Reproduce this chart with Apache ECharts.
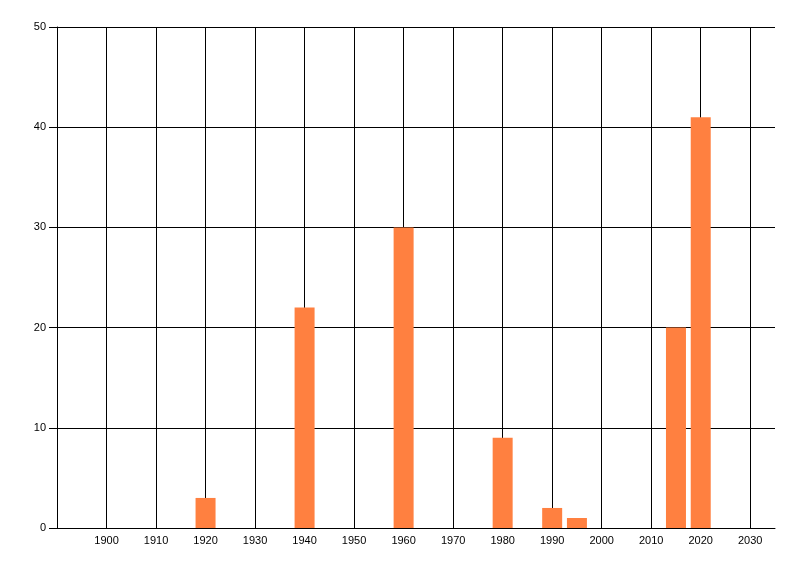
<!DOCTYPE html>
<html>
<head>
<meta charset="utf-8">
<script src="https://cdn.jsdelivr.net/npm/echarts@6/dist/echarts.min.js"></script>
<style>html,body{margin:0;padding:0;background:#fff}#c{width:800px;height:576px}</style>
</head>
<body>
<div id="c"></div>
<script>
const years = [1920, 1940, 1960, 1980, 1990, 1995, 2015, 2020];
const counts = [3, 22, 30, 9, 2, 1, 20, 41];
const xRange = [1890, 2035];
const yRange = [0, 50];

const chart = echarts.init(document.getElementById('c'));
const font = {fontFamily: 'Liberation Sans', fontSize: 11, color: '#000'};
chart.setOption({
  animation: false,
  backgroundColor: '#fff',
  grid: {left: 57, right: 25, top: 27, bottom: 48, containLabel: false},
  xAxis: {
    type: 'value', min: xRange[0], max: xRange[1], interval: 10,
    axisLine: {show: true, onZero: false, lineStyle: {color: '#000', width: 1}},
    axisTick: {show: false},
    axisLabel: Object.assign({showMinLabel: false, showMaxLabel: false, margin: 7, formatter: v => String(v)}, font),
    splitLine: {show: true, showMinLine: false, showMaxLine: false, lineStyle: {color: '#000', width: 1}}
  },
  yAxis: {
    type: 'value', min: yRange[0], max: yRange[1], interval: 10,
    axisLine: {show: true, lineStyle: {color: '#000', width: 1}},
    axisTick: {show: true, length: 8, lineStyle: {color: '#000'}},
    axisLabel: Object.assign({margin: 11}, font),
    splitLine: {show: true, lineStyle: {color: '#000', width: 1}}
  },
  series: [{
    type: 'bar',
    data: years.map((y, i) => [y, counts[i]]),
    barWidth: 20,
    itemStyle: {color: '#FF8040'}
  }]
});
</script>
</body>
</html>
